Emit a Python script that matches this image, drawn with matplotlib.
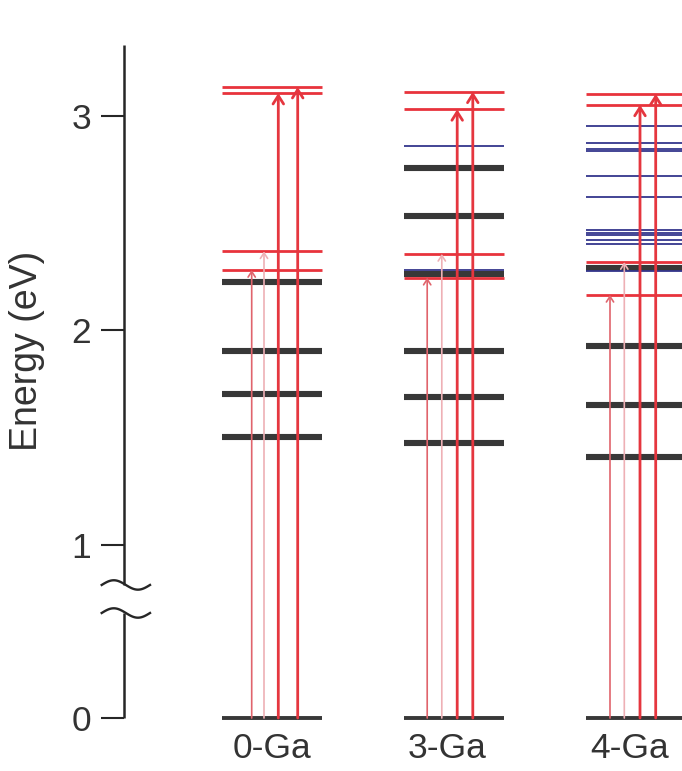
import numpy as np
import matplotlib
matplotlib.use("Agg")
import matplotlib.pyplot as plt
from matplotlib import transforms

plt.rcParams['font.family'] = ['Liberation Sans', 'DejaVu Sans']

# ---------------- data (energies in eV) ----------------
columns = ["0-Ga", "3-Ga", "4-Ga"]

dark_levels = [
    [2.224, 1.905, 1.706, 1.504],
    [2.756, 2.534, 2.262, 1.905, 1.691, 1.475],
    [2.291, 1.930, 1.653, 1.409],
]
blue_levels = [
    [],
    [2.858, 2.280],
    [2.954, 2.875, 2.847, 2.838, 2.718, 2.621, 2.468, 2.456, 2.443, 2.421,
     2.405, 2.278],
]
bright_levels = [
    [2.282, 2.369, 3.107, 3.135],
    [2.246, 2.357, 3.031, 3.113],
    [2.166, 2.319, 3.052, 3.103],
]
ground_level = 0.0
yticks = [0, 1, 2, 3]

# ---------------- layout / style ----------------
col_spacing_px = 182.0
half_width = 50.0 / col_spacing_px
arrow_offsets_px = [
    [-20.3, -8.0, 6.3, 25.7],
    [-26.8, -12.2, 3.2, 18.8],
    [-26.0, -11.7, 4.0, 19.7],
]
label_offsets = [0.0, -0.04, -0.035]
arrow_styles = [
    dict(lw=1.2, color='#e0646c', hw=0.26, hl=0.40),
    dict(lw=1.2, color='#eeb0b5', hw=0.26, hl=0.40),
    dict(lw=2.0, color='#e5363f', hw=0.38, hl=0.60),
    dict(lw=2.0, color='#e5363f', hw=0.38, hl=0.60),
]
c_dark = '#383838'
c_red = '#e8333c'
c_blue = '#34368c'
c_axis = '#262626'
c_text = '#333333'

# broken-axis scale: 0..1 compressed
k = 173.0 / 214.5


def fwd(e):
    e = np.asarray(e, dtype=float)
    return np.where(e < 1, e * k, k + (e - 1))


def inv(d):
    d = np.asarray(d, dtype=float)
    return np.where(d < k, d / k, 1 + (d - k))


W, H = 682, 771
fig = plt.figure(figsize=(W / 100, H / 100), dpi=100)
ax = fig.add_axes([124 / W, (H - 718) / H, 1 - 124 / W, (718 - 45) / H])
ax.set_yscale('function', functions=(fwd, inv))
ax.set_xlim((124 - 272) / col_spacing_px, (682 - 272) / col_spacing_px)
ax.set_ylim(0, 3.331)

for s in ax.spines.values():
    s.set_visible(False)

for i, name in enumerate(columns):
    x0, x1 = i - half_width, i + half_width
    # ground state
    ax.plot([x0, x1], [ground_level, ground_level], color=c_dark, lw=2.8,
            solid_capstyle='butt', clip_on=False, zorder=2)
    for e in dark_levels[i]:
        ax.plot([x0, x1], [e, e], color=c_dark, lw=4.4,
                solid_capstyle='butt', zorder=2)
    for e in blue_levels[i]:
        ax.plot([x0, x1], [e, e], color=c_blue, lw=1.3,
                solid_capstyle='butt', zorder=3)
    for e in bright_levels[i]:
        ax.plot([x0, x1], [e, e], color=c_red, lw=2.0,
                solid_capstyle='butt', zorder=4)
    for j, e in enumerate(sorted(bright_levels[i])):
        st = arrow_styles[j]
        xa = i + arrow_offsets_px[i][j] / col_spacing_px
        ax.annotate('', xy=(xa, e), xytext=(xa, ground_level),
                    xycoords='data', textcoords='data',
                    arrowprops=dict(
                        arrowstyle='->,head_length=%g,head_width=%g' % (st['hl'], st['hw']),
                        color=st['color'], lw=st['lw'], shrinkA=0, shrinkB=0,
                        mutation_scale=10),
                    zorder=5, annotation_clip=False)

# manual left spine with break
blend = transforms.blended_transform_factory(ax.transAxes, ax.transData)
y_up, y_lo = 0.769, 0.607
ax.plot([0, 0], [y_up, 3.331], color=c_axis, lw=1.8, transform=blend,
        clip_on=False, solid_capstyle='butt')
ax.plot([0, 0], [0, y_lo], color=c_axis, lw=1.8, transform=blend,
        clip_on=False, solid_capstyle='butt')
t = np.linspace(0, 1, 60)
xs = (101.7 - 124) / 558 + t * ((150 - 101.7) / 558)
amp = 4.7 / 173.0
for yc in (y_up, y_lo):
    ax.plot(xs, yc + amp * np.sin(2 * np.pi * t), color=c_axis, lw=1.7,
            transform=blend, clip_on=False)

ax.set_yticks(yticks)
ax.set_yticklabels([str(v) for v in yticks])
ax.tick_params(axis='y', length=16.5, width=1.5, color=c_axis,
               labelsize=25.5, labelcolor=c_text, pad=7)
ax.set_xticks([i + label_offsets[i] for i in range(len(columns))])
ax.set_xticklabels(columns)
ax.tick_params(axis='x', length=0, labelsize=25.5, labelcolor=c_text, pad=10)
ax.set_ylabel('Energy (eV)', fontsize=27, color=c_text)
ax.yaxis.set_label_coords(-0.142, 0.545)
ax.yaxis.set_minor_locator(matplotlib.ticker.NullLocator())

fig.savefig('out.png', dpi=100, facecolor='white')
